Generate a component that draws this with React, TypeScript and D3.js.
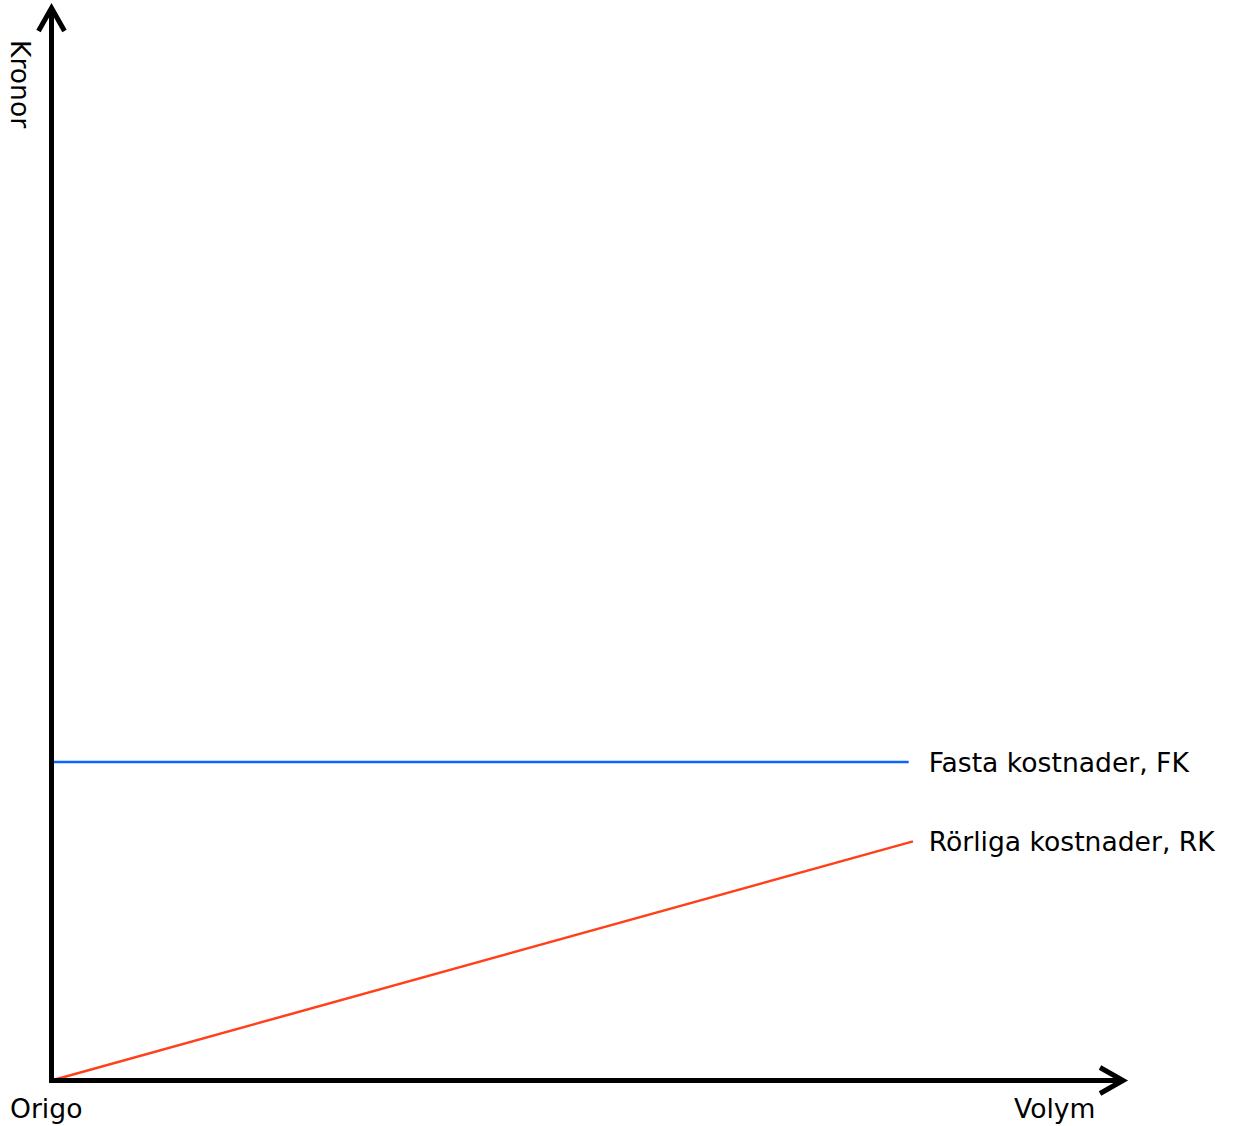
import React from "react";
import * as d3 from "d3";

const volumeFK = [0, 80];
const fixedCosts = [29.7, 29.7];
const volumeRK = [0, 80.4];
const variableCosts = [0, 22.3];
const seriesLabels = ["Fasta kostnader, FK", "Rörliga kostnader, RK"];
const xAxisLabel = "Volym";
const yAxisLabel = "Kronor";
const originLabel = "Origo";
const xDomain = [0, 100];
const yDomain = [0, 100];

const W = 1236;
const H = 1126;
const FONT = "'DejaVu Sans', Verdana, sans-serif";
const FS = 26.6;

export default function App() {
  const x = d3.scaleLinear().domain(xDomain).range([51.5, 1123]);
  const y = d3.scaleLinear().domain(yDomain).range([1080.5, 8]);

  const line = d3
    .line<[number, number]>()
    .x((d) => x(d[0]))
    .y((d) => y(d[1]));

  const fk = volumeFK.map((v, i) => [v, fixedCosts[i]] as [number, number]);
  const rk = volumeRK.map((v, i) => [v, variableCosts[i]] as [number, number]);

  const x0 = x(xDomain[0]);
  const x1 = x(xDomain[1]);
  const y0 = y(yDomain[0]);
  const y1 = y(yDomain[1]);
  const ah = 23;
  const aw = 13;

  const labelX = x(volumeFK[volumeFK.length - 1]) + 20;

  return (
    <svg
      width={W}
      height={H}
      style={{ position: "absolute", left: 0, top: 0, background: "#fff" }}
      fontFamily={FONT}
    >
      <path d={line(fk) || ""} fill="none" stroke="#0a64ff" strokeWidth={2.5} />
      <path d={line(rk) || ""} fill="none" stroke="#ff4019" strokeWidth={2.5} />

      {/* axes */}
      <line x1={x0} y1={y0} x2={x0} y2={y1} stroke="#000" strokeWidth={5} />
      <line x1={x0 - 2.5} y1={y0} x2={x1} y2={y0} stroke="#000" strokeWidth={5} />
      <path
        d={`M${x0 - aw},${y1 + ah} L${x0},${y1} L${x0 + aw},${y1 + ah}`}
        fill="none"
        stroke="#000"
        strokeWidth={5}
      />
      <path
        d={`M${x1 - ah},${y0 - aw} L${x1},${y0} L${x1 - ah},${y0 + aw}`}
        fill="none"
        stroke="#000"
        strokeWidth={5}
      />

      <text x={labelX} y={y(fixedCosts[1]) + 10} fontSize={FS} fill="#000">
        {seriesLabels[0]}
      </text>
      <text x={labelX} y={y(variableCosts[1]) + 10} fontSize={FS} fill="#000">
        {seriesLabels[1]}
      </text>
      <text x={10} y={1118} fontSize={FS} fill="#000">
        {originLabel}
      </text>
      <text x={1014} y={1118} fontSize={FS} fill="#000">
        {xAxisLabel}
      </text>
      <text transform="translate(11,40) rotate(90)" fontSize={FS} fill="#000">
        {yAxisLabel}
      </text>
    </svg>
  );
}
